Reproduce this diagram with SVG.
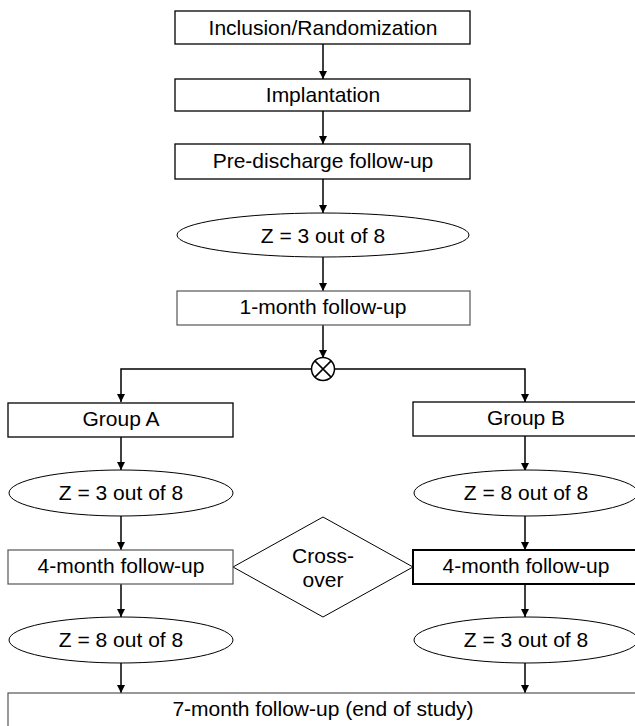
<svg xmlns="http://www.w3.org/2000/svg" width="635" height="726" viewBox="0 0 635 726">
<style>
  .box{fill:#fff;stroke:#000;stroke-width:1.3}
  .lbox{fill:#fff;stroke:#555;stroke-width:1.2}
  .ell{fill:#fff;stroke:#000;stroke-width:1}
  .t{font-family:"Liberation Sans",Arial,sans-serif;font-size:21px;fill:#000;text-anchor:middle}
  .c{fill:none;stroke:#000;stroke-width:1.5}
</style>
<defs>
  <marker id="ah" viewBox="0 0 10 10" refX="10" refY="5" markerWidth="8" markerHeight="8" markerUnits="userSpaceOnUse" orient="auto">
    <path d="M0,0 L10,5 L0,10 Z" fill="#000"/>
  </marker>
</defs>
<rect width="635" height="726" fill="#fff"/>
<g id="connectors">
  <line class="c" x1="323" y1="44" x2="323" y2="79" marker-end="url(#ah)"/>
  <line class="c" x1="323" y1="111" x2="323" y2="144" marker-end="url(#ah)"/>
  <line class="c" x1="323" y1="179" x2="323" y2="213" marker-end="url(#ah)"/>
  <line class="c" x1="323" y1="257" x2="323" y2="291" marker-end="url(#ah)"/>
  <line class="c" x1="323" y1="325" x2="323" y2="358" marker-end="url(#ah)"/>
  <polyline class="c" points="311.5,369 121,369 121,402" marker-end="url(#ah)"/>
  <polyline class="c" points="334.5,369 525,369 525,402" marker-end="url(#ah)"/>
  <line class="c" x1="121" y1="437" x2="121" y2="470" marker-end="url(#ah)"/>
  <line class="c" x1="121" y1="516" x2="121" y2="550" marker-end="url(#ah)"/>
  <line class="c" x1="121" y1="584" x2="121" y2="617" marker-end="url(#ah)"/>
  <line class="c" x1="121" y1="663" x2="121" y2="693" marker-end="url(#ah)"/>
  <line class="c" x1="525" y1="436" x2="525" y2="471" marker-end="url(#ah)"/>
  <line class="c" x1="525" y1="516" x2="525" y2="550" marker-end="url(#ah)"/>
  <line class="c" x1="525" y1="584" x2="525" y2="617" marker-end="url(#ah)"/>
  <line class="c" x1="525" y1="663" x2="525" y2="693" marker-end="url(#ah)"/>
</g>
<g id="n1"><rect class="box" x="175" y="11" width="295" height="33"/><text class="t" x="323" y="35">Inclusion/Randomization</text></g>
<g id="n2"><rect class="box" x="175" y="79" width="295" height="32"/><text class="t" x="323" y="102">Implantation</text></g>
<g id="n3"><rect class="box" x="175" y="144" width="295" height="35"/><text class="t" x="323" y="168">Pre-discharge follow-up</text></g>
<g id="e1"><ellipse class="ell" cx="323" cy="235" rx="146" ry="22"/><text class="t" x="323" y="243">Z = 3 out of 8</text></g>
<g id="n4"><rect class="lbox" x="177" y="291" width="293" height="34"/><text class="t" x="323" y="314">1-month follow-up</text></g>
<g id="join"><circle cx="323" cy="369" r="11.5" fill="#fff" stroke="#000" stroke-width="1.5"/><path d="M314.9,360.9 L331.1,377.1 M331.1,360.9 L314.9,377.1" stroke="#000" stroke-width="1.5"/></g>
<g id="ga"><rect class="box" x="8" y="403" width="225" height="34"/><text class="t" x="121" y="426">Group A</text></g>
<g id="gb"><rect class="box" x="413" y="402" width="230" height="34"/><text class="t" x="526" y="425">Group B</text></g>
<g id="ea1"><ellipse class="ell" cx="121" cy="493" rx="112" ry="23"/><text class="t" x="121" y="500">Z = 3 out of 8</text></g>
<g id="eb1"><ellipse class="ell" cx="526" cy="493" rx="112" ry="23"/><text class="t" x="526" y="500">Z = 8 out of 8</text></g>
<g id="cross"><polygon points="233,567 323,517 413,567 323,617" fill="#fff" stroke="#000" stroke-width="1"/><text class="t" x="323" y="563">Cross-</text><text class="t" x="323" y="587">over</text></g>
<g id="fa"><rect class="lbox" x="8" y="550" width="225" height="34"/><text class="t" x="121" y="573">4-month follow-up</text></g>
<g id="fb"><rect class="box" x="413" y="550" width="230" height="34" style="stroke-width:2"/><text class="t" x="526" y="573">4-month follow-up</text></g>
<g id="ea2"><ellipse class="ell" cx="121" cy="640" rx="112" ry="23"/><text class="t" x="121" y="647">Z = 8 out of 8</text></g>
<g id="eb2"><ellipse class="ell" cx="526" cy="640" rx="112" ry="23"/><text class="t" x="526" y="647">Z = 3 out of 8</text></g>
<g id="n7"><rect class="lbox" x="8" y="693" width="640" height="40"/><text class="t" x="323" y="716">7-month follow-up (end of study)</text></g>
</svg>
